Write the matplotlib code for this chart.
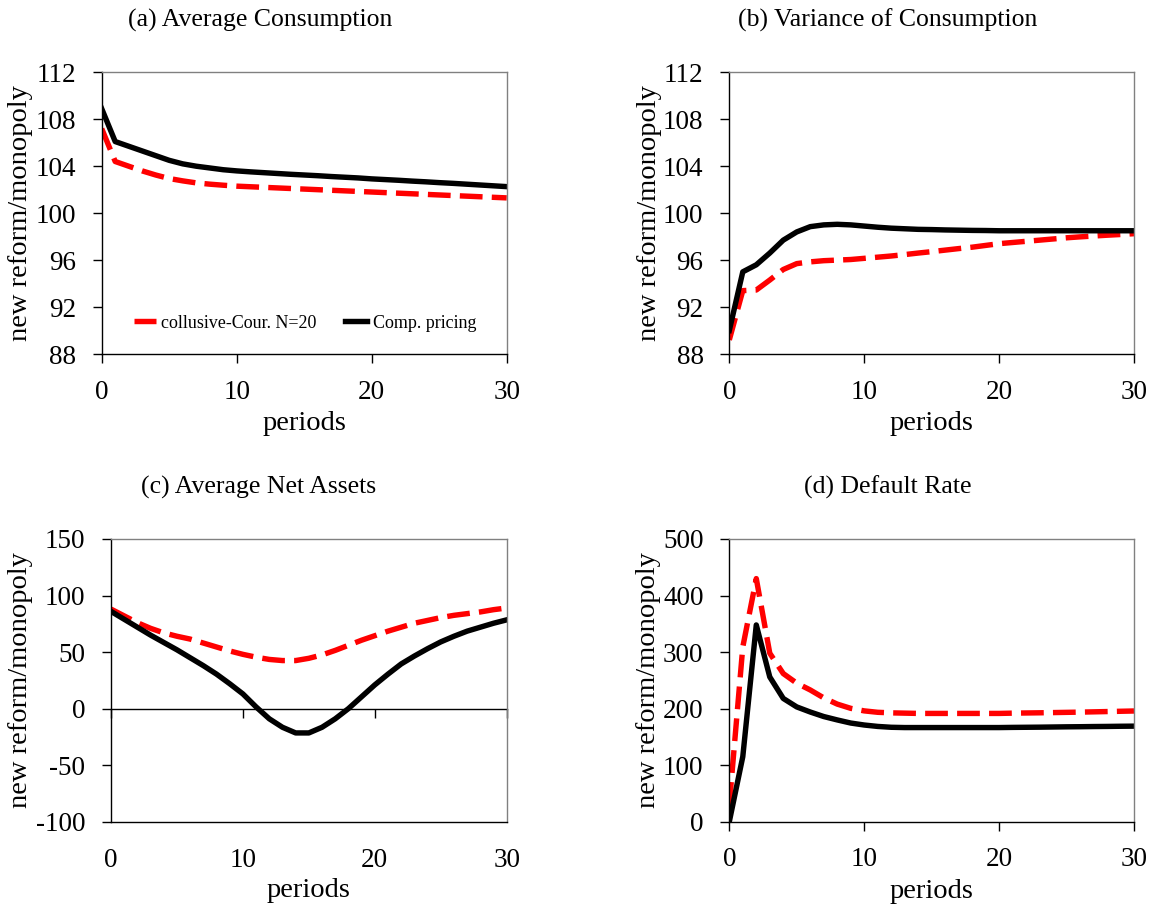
import matplotlib
matplotlib.use("Agg")
import matplotlib.pyplot as plt

plt.rcParams["font.family"] = ["Liberation Serif", "DejaVu Serif"]
plt.rcParams["axes.unicode_minus"] = False

# ---- data ----
periods = list(range(31))

cons_comp = [108.9, 106.1, 105.7, 105.3, 104.9, 104.5, 104.2, 104.0, 103.85, 103.7,
             103.6, 103.52, 103.45, 103.38, 103.31, 103.25, 103.19, 103.12, 103.06, 103.0,
             102.92, 102.86, 102.8, 102.73, 102.67, 102.6, 102.54, 102.47, 102.4, 102.33, 102.26]
cons_coll = [107.2, 104.4, 104.0, 103.6, 103.25, 102.95, 102.75, 102.58, 102.47, 102.38,
             102.3, 102.25, 102.2, 102.15, 102.1, 102.05, 102.0, 101.95, 101.9, 101.85,
             101.8, 101.75, 101.7, 101.65, 101.6, 101.55, 101.5, 101.45, 101.4, 101.35, 101.3]

var_comp = [90.0, 95.0, 95.6, 96.6, 97.7, 98.4, 98.85, 99.0, 99.05, 99.0,
            98.9, 98.8, 98.72, 98.67, 98.62, 98.6, 98.57, 98.55, 98.53, 98.52,
            98.5, 98.5, 98.5, 98.5, 98.5, 98.5, 98.5, 98.5, 98.5, 98.5, 98.5]
var_coll = [89.2, 93.4, 93.45, 94.3, 95.2, 95.7, 95.85, 95.95, 96.0, 96.05,
            96.15, 96.25, 96.35, 96.47, 96.6, 96.72, 96.85, 96.98, 97.1, 97.25,
            97.4, 97.5, 97.6, 97.7, 97.8, 97.9, 97.98, 98.05, 98.12, 98.18, 98.25]

assets_comp = [86, 79, 72, 65, 58.5, 52, 45, 38, 30.5, 22,
               13, 1.5, -9, -16.5, -21.5, -21.5, -16.5, -9, 0, 10.5,
               21, 30.5, 39.5, 46.5, 53, 59, 64, 68.5, 72, 75.5, 78.5]
assets_coll = [88, 82, 76, 71, 67, 64, 61.5, 58, 54.5, 51,
               48, 45.5, 43.5, 42.5, 42.5, 44.5, 47.5, 51.5, 56, 60.5,
               64.5, 68.5, 72, 75.5, 78, 80.5, 82.5, 84, 85.5, 87.5, 89]

default_comp = [0, 115, 348, 256, 218, 203, 194, 186, 180, 174.5,
                171, 168.5, 167, 166.5, 166.5, 166.5, 166.5, 166.5, 166.5, 166.5,
                166.5, 166.8, 167, 167.2, 167.5, 167.8, 168, 168.3, 168.5, 168.8, 169]
default_coll = [30, 309, 430, 298, 262, 245, 233, 219, 208, 200.5,
                196, 193.5, 192.5, 192, 191.5, 191.5, 191.5, 191.5, 191.5, 191.5,
                191.5, 192, 192.3, 192.6, 193, 193.4, 193.8, 194.3, 194.8, 195.3, 195.8]

titles = ["(a) Average Consumption", "(b) Variance of Consumption",
          "(c) Average Net Assets", "(d) Default Rate"]
coll_label = "collusive-Cour. N=20"
comp_label = "Comp. pricing"
ylabel = "new reform/monopoly"
xlabel = "periods"
xticks = [0, 10, 20, 30]
cons_ticks = [88, 92, 96, 100, 104, 108, 112]
assets_ticks = [-100, -50, 0, 50, 100, 150]
default_ticks = [0, 100, 200, 300, 400, 500]

W, H = 1150, 905
fig = plt.figure(figsize=(W / 100, H / 100), dpi=100)


def px_axes(l, t, r, b):
    return fig.add_axes([l / W, 1 - b / H, (r - l) / W, (b - t) / H])


ax_a = px_axes(101.7, 72.3, 506.7, 354)
ax_b = px_axes(729.3, 72.3, 1134, 354)
ax_c = px_axes(111, 539, 506.7, 821.7)
ax_d = px_axes(729.3, 539, 1134, 821.7)

panels = [
    (ax_a, cons_coll, cons_comp, cons_ticks, -0.20, 260, 20),
    (ax_b, var_coll, var_comp, cons_ticks, -0.198, 888, 20),
    (ax_c, assets_coll, assets_comp, assets_ticks, -0.229, 259, 487),
    (ax_d, default_coll, default_comp, default_ticks, -0.20, 888, 487),
]

for i, (ax, coll, comp, yt, ylx, tx, ty) in enumerate(panels):
    ax.plot(periods, coll, color="#ff0000", lw=3.9, linestyle=(0, (4.2, 1.7)),
            label=coll_label)
    ax.plot(periods, comp, color="black", lw=3.9, label=comp_label)
    ax.set_xlim(0, 30)
    ax.set_ylim(yt[0], yt[-1])
    ax.set_xticks(xticks)
    ax.set_yticks(yt)
    ax.tick_params(axis="y", direction="out", length=6.5, width=1, pad=12,
                   labelsize=19.5)
    ax.tick_params(axis="x", direction="out", length=6.5, width=1, pad=12,
                   labelsize=19.5)
    for s in ["top", "right"]:
        ax.spines[s].set_color("#808080")
        ax.spines[s].set_linewidth(1)
    for s in ["left", "bottom"]:
        ax.spines[s].set_color("black")
        ax.spines[s].set_linewidth(1)
    ax.set_ylabel(ylabel, fontsize=20.5)
    ax.yaxis.set_label_coords(ylx, 0.5)
    ax.yaxis.label.set_va("center")
    ax.set_xlabel(xlabel, fontsize=20.5)
    ax.xaxis.label.set_va("center")
    ax.xaxis.set_label_coords(0.5, -0.248)
    fig.text(tx / W, 1 - ty / H, titles[i], fontsize=18.5, ha="center", va="center")

# panel (c): horizontal axis crosses at zero, labels stay at the bottom
ax_c.tick_params(axis="x", length=0, pad=19)
zero_frac = (0 - assets_ticks[0]) / (assets_ticks[-1] - assets_ticks[0])
sec = ax_c.secondary_xaxis(zero_frac)
sec.set_xticks(xticks)
sec.tick_params(axis="x", direction="out", length=6.5, width=1, labelbottom=False)
sec.spines["bottom"].set_linewidth(1)
ax_c.xaxis.set_label_coords(0.5, -0.245)

ax_a.legend(loc="center left", bbox_to_anchor=(0.08, 0.11), ncol=2, frameon=False,
            fontsize=13, handlelength=1.2, handletextpad=0.3, columnspacing=1.6,
            borderpad=0, borderaxespad=0)

fig.savefig("out.png", dpi=100)
